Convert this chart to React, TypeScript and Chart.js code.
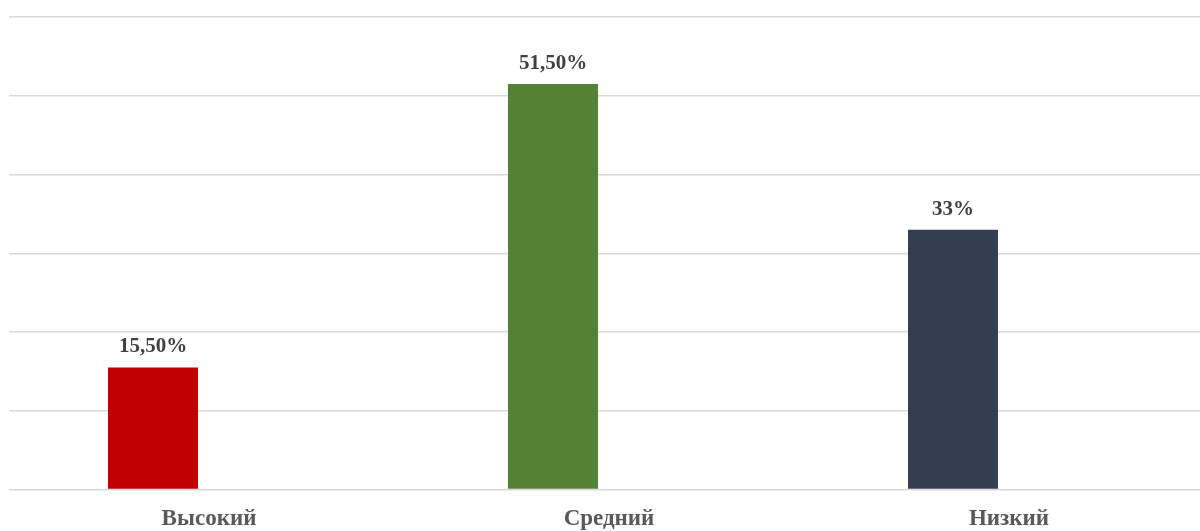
import React, { useEffect, useRef } from "react";
import { Chart, registerables } from "chart.js";

Chart.register(...registerables);

const categories = ["Высокий", "Средний", "Низкий"];
const values = [15.5, 51.5, 33];
const valueLabels = ["15,50%", "51,50%", "33%"];
const barColors = ["#C00000", "#548235", "#333F50"];
const emptySeries = [null, null, null];

const FONT = '"Liberation Serif", "Times New Roman", serif';

const dataLabelPlugin = {
  id: "dataLabels",
  afterDatasetsDraw(chart: any) {
    const meta = chart.getDatasetMeta(0);
    const ctx = chart.ctx;
    ctx.save();
    ctx.font = `bold 21px ${FONT}`;
    ctx.fillStyle = "#404040";
    ctx.textAlign = "center";
    ctx.textBaseline = "alphabetic";
    meta.data.forEach((bar: any, i: number) => {
      ctx.fillText(valueLabels[i], bar.x, bar.y - 15);
    });
    ctx.restore();
  },
};

export default function App() {
  const ref = useRef<HTMLCanvasElement>(null);
  useEffect(() => {
    document.body.style.overflow = "hidden";
    const chart = new Chart(ref.current!, {
      type: "bar",
      data: {
        labels: categories,
        datasets: [
          {
            data: values,
            backgroundColor: barColors,
            borderWidth: 0,
            categoryPercentage: 0.56,
            barPercentage: 0.8036,
          },
          {
            data: emptySeries as any,
            backgroundColor: "rgba(0,0,0,0)",
            borderWidth: 0,
            categoryPercentage: 0.56,
            barPercentage: 0.8036,
          },
        ],
      },
      options: {
        animation: false,
        responsive: false,
        maintainAspectRatio: false,
        layout: { padding: { left: 9, right: 1, top: 17, bottom: 0 } },
        plugins: {
          legend: { display: false },
          tooltip: { enabled: false },
        },
        scales: {
          x: {
            grid: { display: false, drawTicks: false },
            border: { display: false },
            ticks: {
              padding: 16,
              color: "#595959",
              font: { family: FONT, size: 23, weight: "bold" },
            },
            afterFit(scale: any) {
              scale.height = 41.5;
            },
          },
          y: {
            min: 0,
            max: 60,
            ticks: { display: false, stepSize: 10 },
            grid: { color: "#d9d9d9", lineWidth: 1.5, drawTicks: false },
            border: { display: false },
            afterFit(scale: any) {
              scale.width = 0;
            },
          },
        },
      },
      plugins: [dataLabelPlugin],
    });
    return () => chart.destroy();
  }, []);
  return (
    <div style={{ position: "fixed", left: 0, top: 0, width: 1210, height: 531, background: "#fff" }}>
      <canvas ref={ref} width={1210} height={531} style={{ width: 1210, height: 531, display: "block" }} />
    </div>
  );
}
